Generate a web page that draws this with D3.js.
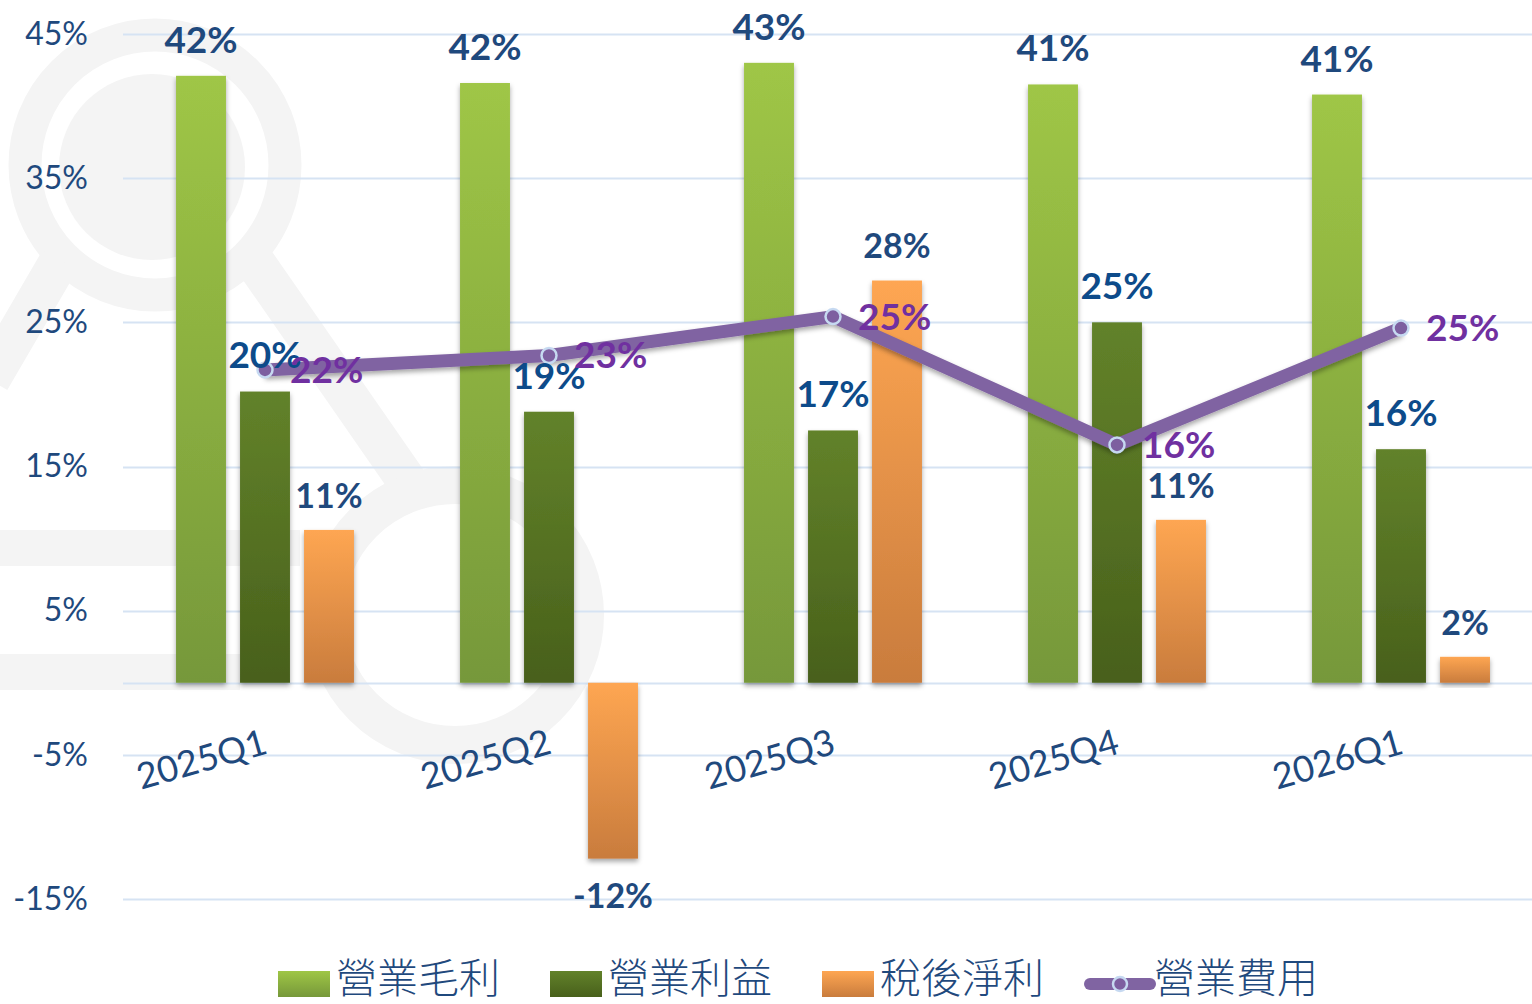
<!DOCTYPE html>
<html>
<head>
<meta charset="utf-8">
<script src="https://cdn.jsdelivr.net/npm/d3@7"></script>
<style>
  body { margin: 0; background: #fff; }
  svg { display: block; }
</style>
</head>
<body>
<div id="chart"></div>
<script>
// chart data
const quarters = ["2025Q1", "2025Q2", "2025Q3", "2025Q4", "2026Q1"];
const seriesNames = ["營業毛利", "營業利益", "稅後淨利"];
const grossMargin = [42.1, 41.6, 43.0, 41.5, 40.8];
const operatingMargin = [20.2, 18.8, 17.5, 25.0, 16.2];
const netMargin = [10.6, -12.2, 27.9, 11.3, 1.8];
const expenseName = "營業費用";
const expenseRatio = [21.7, 22.7, 25.4, 16.5, 24.6];
const barLabels = [
    ["42%", "42%", "43%", "41%", "41%"],
    ["20%", "19%", "17%", "25%", "16%"],
    ["11%", "-12%", "28%", "11%", "2%"]
];
const lineLabels = ["22%", "23%", "25%", "16%", "25%"];
const yTicks = [-15, -5, 5, 15, 25, 35, 45];

function init() {
    const W = 1532, H = 1004;
    const left = 123, right = 1543, top = 34, bottom = 899;

    const svg = d3.select("#chart").append("svg")
        .attr("width", W)
        .attr("height", H);

    const defs = svg.append("defs");
    const grads = [
        ["g0", "#9fc646", "#76983a"],
        ["g1", "#62822a", "#48601b"],
        ["g2", "#fea652", "#c97c3d"]
    ];
    grads.forEach(g => {
        const lg = defs.append("linearGradient").attr("id", g[0])
            .attr("x1", 0).attr("y1", 0).attr("x2", 0).attr("y2", 1);
        lg.append("stop").attr("offset", "0%").attr("stop-color", g[1]);
        lg.append("stop").attr("offset", "100%").attr("stop-color", g[2]);
    });
    defs.append("filter").attr("id", "shadow")
        .attr("x", "-20%").attr("y", "-10%").attr("width", "140%").attr("height", "130%")
        .append("feDropShadow")
        .attr("dx", 0).attr("dy", 3).attr("stdDeviation", 2.5)
        .attr("flood-color", "#000").attr("flood-opacity", 0.35);

    // faint logo watermark in the background
    const wm = svg.append("g").attr("fill", "none").attr("stroke", "#f4f4f4");
    wm.append("circle").attr("cx", 155).attr("cy", 165).attr("r", 130).attr("stroke-width", 33);
    wm.append("circle").attr("cx", 152).attr("cy", 167).attr("r", 93).attr("fill", "#f4f4f4").attr("stroke", "none");
    wm.append("path").attr("d", "M250,255 L420,500 M60,260 L-10,380").attr("stroke-width", 40);
    wm.append("path").attr("d", "M-10,548 L300,548 M-10,672 L240,672").attr("stroke-width", 36);
    wm.append("circle").attr("cx", 455).attr("cy", 615).attr("r", 130).attr("stroke-width", 38);

    // scales
    const x = d3.scaleBand().domain(quarters).range([left, right]);
    const xs = d3.scaleBand().domain(seriesNames).range([-96, 96])
        .paddingInner(0.22).paddingOuter(0.11);
    const y = d3.scaleLinear().domain([-15, 45]).range([bottom, top]);
    const cx = q => x(q) + x.bandwidth() / 2;

    // gridlines
    svg.append("g")
        .selectAll("line")
        .data(yTicks.concat([0]))
        .enter().append("line")
        .attr("x1", left).attr("x2", W)
        .attr("y1", d => Math.round(y(d)) + 0.5).attr("y2", d => Math.round(y(d)) + 0.5)
        .attr("stroke", "#d6e3f3").attr("stroke-width", 2);

    // y axis labels
    const yAxis = svg.append("g")
        .attr("transform", "translate(88,0)")
        .call(d3.axisLeft(y).tickValues(yTicks).tickSize(0).tickPadding(0).tickFormat(d => d + "%"));
    yAxis.select(".domain").remove();
    yAxis.selectAll("text")
        .attr("fill", "#1f497d")
        .style("font-family", "Lato, sans-serif")
        .style("font-size", "32px");

    // bars
    const allSeries = [grossMargin, operatingMargin, netMargin];
    const barData = [];
    allSeries.forEach((vals, s) => {
        vals.forEach((v, i) => barData.push({ s, q: quarters[i], v, label: barLabels[s][i] }));
    });

    svg.append("g")
        .selectAll("rect")
        .data(barData)
        .enter().append("rect")
        .attr("x", d => cx(d.q) + xs(seriesNames[d.s]))
        .attr("width", xs.bandwidth())
        .attr("y", d => y(Math.max(0, d.v)))
        .attr("height", d => Math.abs(y(d.v) - y(0)))
        .attr("fill", d => `url(#g${d.s})`)
        .attr("filter", "url(#shadow)");

    // category labels
    svg.append("g")
        .selectAll("text")
        .data(quarters)
        .enter().append("text")
        .attr("text-anchor", "end")
        .attr("transform", d => `translate(${cx(d) + 4},${753}) rotate(-16)`)
        .attr("fill", "#1f497d")
        .style("font-family", "Lato, sans-serif")
        .style("font-size", "36px")
        .text(d => d);

    // expense line
    const line = d3.line().x((d, i) => cx(quarters[i])).y(d => y(d));
    svg.append("path")
        .datum(expenseRatio)
        .attr("d", line)
        .attr("fill", "none")
        .attr("stroke", "#8064a2")
        .attr("stroke-width", 13)
        .attr("stroke-linejoin", "round")
        .attr("filter", "url(#shadow)");
    svg.append("g")
        .selectAll("circle")
        .data(expenseRatio)
        .enter().append("circle")
        .attr("cx", (d, i) => cx(quarters[i]))
        .attr("cy", d => y(d))
        .attr("r", 7.5)
        .attr("fill", "#7d5fa0")
        .attr("stroke", "#c6d9f1")
        .attr("stroke-width", 2.5);

    // bar value labels
    const labelColor = ["#1f497d", "#0d4b8a", "#1f497d"];
    const labelSize = [37, 37, 34];
    svg.append("g")
        .selectAll("text")
        .data(barData)
        .enter().append("text")
        .attr("text-anchor", "middle")
        .attr("dy", "0.35em")
        .attr("x", d => cx(d.q) + xs(seriesNames[d.s]) + xs.bandwidth() / 2)
        .attr("y", d => d.v >= 0 ? y(d.v) - (d.s === 2 ? 34 : 36) : y(d.v) + 37)
        .attr("fill", d => labelColor[d.s])
        .style("font-family", "Lato, sans-serif")
        .style("font-weight", "bold")
        .style("font-size", d => labelSize[d.s] + "px")
        .text(d => d.label);

    // line value labels
    svg.append("g")
        .selectAll("text")
        .data(expenseRatio)
        .enter().append("text")
        .attr("x", (d, i) => cx(quarters[i]) + 25)
        .attr("y", d => y(d))
        .attr("dy", "0.35em")
        .attr("fill", "#7030a0")
        .style("font-family", "Lato, sans-serif")
        .style("font-weight", "bold")
        .style("font-size", "37px")
        .text((d, i) => lineLabels[i]);

    // legend
    const legend = svg.append("g").attr("transform", "translate(0,984)");
    const legendX = [278, 550, 822];
    const legendText = (sel, x0, txt) => sel.append("text")
        .attr("x", x0).attr("y", 9)
        .attr("fill", "#1f497d")
        .style("font-family", "'Noto Sans CJK TC', sans-serif")
        .style("font-weight", 300)
        .style("font-size", "41px")
        .text(txt);
    seriesNames.forEach((name, s) => {
        legend.append("rect")
            .attr("x", legendX[s]).attr("y", -13)
            .attr("width", 52).attr("height", 26)
            .attr("fill", `url(#g${s})`);
        legendText(legend, legendX[s] + 58, name);
    });
    legend.append("line")
        .attr("x1", 1090).attr("x2", 1150).attr("y1", 0).attr("y2", 0)
        .attr("stroke", "#8064a2").attr("stroke-width", 12).attr("stroke-linecap", "round");
    legend.append("circle")
        .attr("cx", 1120).attr("cy", 0).attr("r", 7)
        .attr("fill", "#7d5fa0").attr("stroke", "#c6d9f1").attr("stroke-width", 2.5);
    legendText(legend, 1154, expenseName);
}

window.onload = init;
</script>
</body>
</html>
